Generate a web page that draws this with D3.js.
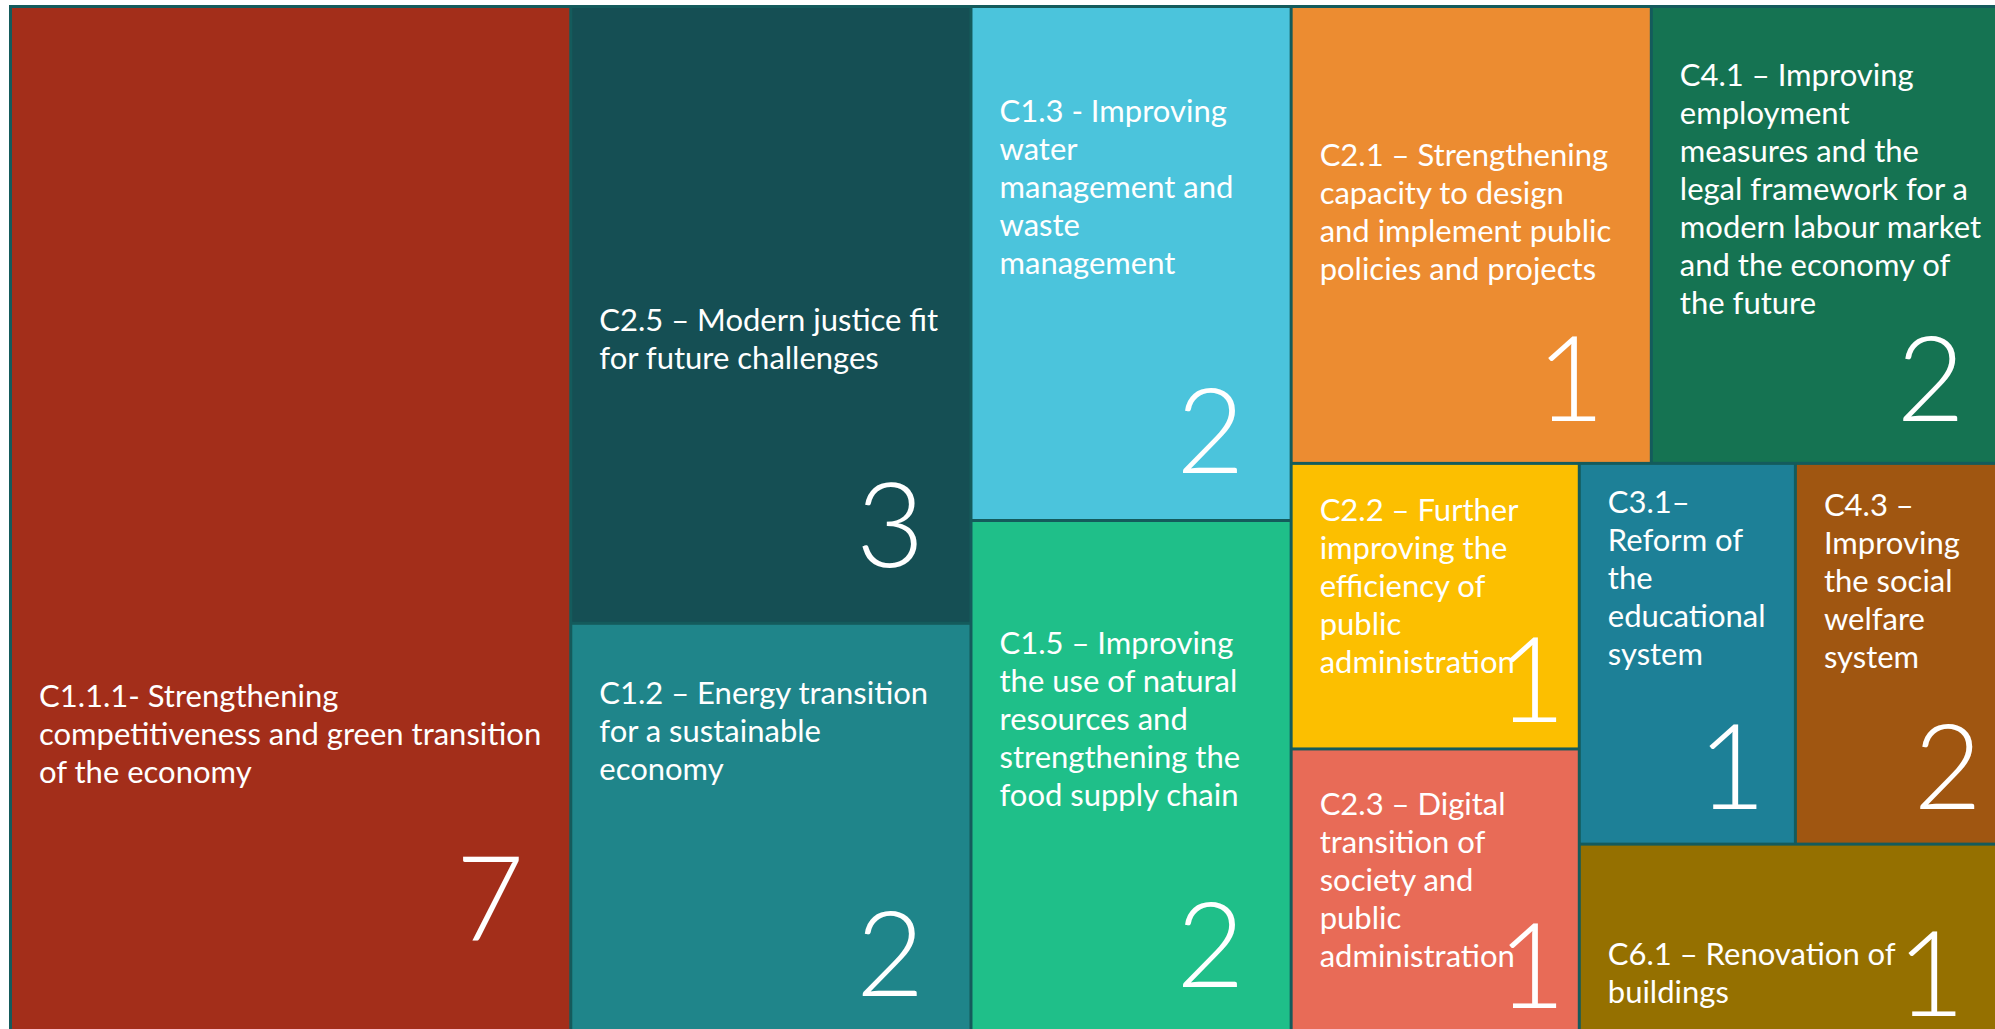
<!DOCTYPE html>
<html>
<head>
<meta charset="utf-8">
<script src="https://cdn.jsdelivr.net/npm/d3@7"></script>
<style>
    body { margin: 0; background: #fff; }
    svg { display: block; }
    .label { font-family: Lato, "Open Sans", sans-serif; font-size: 31px; fill: #fff; }
    .count { font-family: Lato, "Open Sans", sans-serif; font-weight: 300; font-size: 118px; fill: #fff; }
</style>
</head>
<body>
<svg id="chart" width="1995" height="1029"></svg>
<script>
// component codes, in the order the tiles are laid out
const codes = ["C1.1.1", "C2.5", "C1.2", "C1.3", "C1.5", "C2.1", "C4.1", "C2.2", "C2.3", "C3.1", "C4.3", "C6.1"];
// label text, one entry per line as wrapped in the source
const titles = [
    ["C1.1.1- Strengthening", "competitiveness and green transition", "of the economy"],
    ["C2.5 – Modern justice fit", "for future challenges"],
    ["C1.2 – Energy transition", "for a sustainable", "economy"],
    ["C1.3 - Improving", "water", "management and", "waste", "management"],
    ["C1.5 – Improving", "the use of natural", "resources and", "strengthening the", "food supply chain"],
    ["C2.1 – Strengthening", "capacity to design", "and implement public", "policies and projects"],
    ["C4.1 – Improving", "employment", "measures and the", "legal framework for a", "modern labour market", "and the economy of", "the future"],
    ["C2.2 – Further", "improving the", "efficiency of", "public", "administration"],
    ["C2.3 – Digital", "transition of", "society and", "public", "administration"],
    ["C3.1–", "Reform of", "the", "educational", "system"],
    ["C4.3 –", "Improving", "the social", "welfare", "system"],
    ["C6.1 – Renovation of", "buildings"]
];
// number printed in each tile
const counts = [7, 3, 2, 2, 2, 1, 2, 1, 1, 1, 2, 1];
// tile size used by the source layout
const weights = [7, 3, 2, 2, 2, 2, 2, 1, 1, 1, 1, 1];
const colors = ["#a32e1a", "#154f54", "#1f858a", "#4bc4dc", "#1fbf89", "#ec8c31",
    "#157352", "#fcbf00", "#e86b57", "#1d8097", "#a05611", "#957000"];
// where the label block starts, as a share of the tile height
const labelDrop = [0.66, 0.49, 0.14, 0.18, 0.215, 0.30, 0.123, 0.12, 0.15, 0.07, 0.077, 0.52];

const margin = {top: 5, left: 9};
const width = 2004, height = 1031;
const lineH = 38;

// squarify like d3's, but d3 clamps the ratio to >= 1 and the source used a tighter one
function squarifyTile (ratio) {
    return (parent, x0, y0, x1, y1) => {
        let nodes = parent.children, n = nodes.length, value = parent.value;
        let i0 = 0, i1 = 0;
        while (i0 < n) {
            let dx = x1 - x0, dy = y1 - y0;
            let sumValue = nodes[i1++].value;
            let minValue = sumValue, maxValue = sumValue;
            let alpha = Math.max(dy / dx, dx / dy) / (value * ratio);
            let beta = sumValue * sumValue * alpha;
            let minRatio = Math.max(maxValue / beta, beta / minValue);
            for (; i1 < n; ++i1) {
                let v = nodes[i1].value;
                sumValue += v;
                if (v < minValue) minValue = v;
                if (v > maxValue) maxValue = v;
                beta = sumValue * sumValue * alpha;
                let newRatio = Math.max(maxValue / beta, beta / minValue);
                if (newRatio > minRatio) { sumValue -= v; break; }
                minRatio = newRatio;
            }
            let row = {value: sumValue, children: nodes.slice(i0, i1)};
            if (dx < dy) {
                d3.treemapDice(row, x0, y0, x1, y0 += dy * sumValue / value);
            } else {
                d3.treemapSlice(row, x0, y0, x0 += dx * sumValue / value, y1);
            }
            value -= sumValue;
            i0 = i1;
        }
    };
}

const svg = d3.select("#chart");
const g = svg.append("g")
    .attr("transform", "translate(" + margin.left + "," + margin.top + ")");

g.append("rect")
    .attr("width", width)
    .attr("height", height)
    .attr("fill", "#145b5c");

const rows = codes.map((c, i) => ({code: c, lines: titles[i], count: counts[i], weight: weights[i], color: colors[i], drop: labelDrop[i]}));

const root = d3.hierarchy({children: rows})
    .sum(d => d.weight || 0);

d3.treemap()
    .tile(squarifyTile(0.9))
    .size([width, height])
    .paddingOuter(3)
    .paddingInner(3)(root);

const cell = g.selectAll("g.cell")
    .data(root.leaves())
    .enter()
    .append("g")
    .attr("class", "cell")
    .attr("transform", d => "translate(" + d.x0 + "," + d.y0 + ")");

cell.append("rect")
    .attr("width", d => d.x1 - d.x0)
    .attr("height", d => d.y1 - d.y0)
    .attr("fill", d => d.data.color);

cell.append("text")
    .attr("class", "label")
    .attr("y", d => (d.y1 - d.y0) * d.data.drop + 22)
    .selectAll("tspan")
    .data(d => d.data.lines)
    .enter()
    .append("tspan")
    .attr("x", 27)
    .attr("dy", (l, i) => i ? lineH : 0)
    .text(l => l);

// big number sits bottom right, closer to the edge in the narrower tiles
cell.append("text")
    .attr("class", "count")
    .attr("text-anchor", "end")
    .attr("x", d => {
        let w = d.x1 - d.x0;
        return w - (w > 300 ? 45 : w > 250 ? 12 : 28);
    })
    .attr("y", d => (d.y1 - d.y0) * 0.91)
    .text(d => d.data.count);
</script>
</body>
</html>
